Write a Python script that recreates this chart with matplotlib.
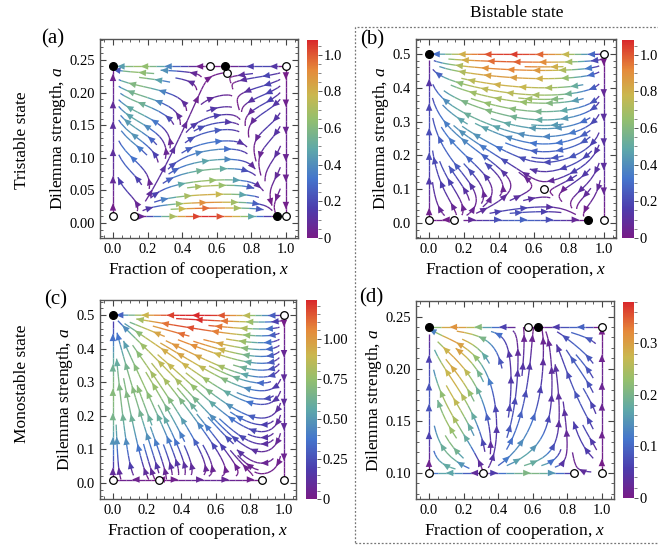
import numpy as np
import matplotlib
matplotlib.use("Agg")
import matplotlib.pyplot as plt
from matplotlib.colors import LinearSegmentedColormap, Normalize
from matplotlib.cm import ScalarMappable
from matplotlib.ticker import MultipleLocator
from matplotlib.patches import Rectangle, FancyArrowPatch

plt.rcParams['font.family'] = ['Liberation Serif', 'DejaVu Serif']
plt.rcParams['mathtext.fontset'] = 'custom'
plt.rcParams['mathtext.rm'] = 'Liberation Serif'
plt.rcParams['mathtext.it'] = 'Liberation Serif:italic'

W, H = 658, 558

# speed colour scale (purple -> blue -> green -> yellow -> red)
rainbow = LinearSegmentedColormap.from_list('rainbow_speed', [
    (0.00, (0.47, 0.11, 0.53)),
    (0.15, (0.30, 0.24, 0.68)),
    (0.30, (0.27, 0.46, 0.80)),
    (0.45, (0.37, 0.66, 0.66)),
    (0.60, (0.58, 0.75, 0.43)),
    (0.72, (0.79, 0.72, 0.31)),
    (0.85, (0.90, 0.54, 0.23)),
    (1.00, (0.85, 0.16, 0.17)),
])

# ---- (a) tristable state ----
arange_a = (0.01, 0.24)
inner_a = (0.12, 0.56)      # lower x-nullcline at a_min, a_max
outer_a = (0.95, 0.65)      # upper x-nullcline at a_min, a_max
theta_a = 0.66
gain_a = (25.0, 12.0)
stable_a = ([0.0, 0.65, 0.95], [0.24, 0.24, 0.01])
unstable_a = ([0.0, 0.12, 0.56, 0.66, 1.0, 1.0], [0.01, 0.01, 0.24, 0.23, 0.24, 0.01])
cmax_a = 1.08
cticks_a = [0, 0.2, 0.4, 0.6, 0.8, 1.0]
clabels_a = ['0', '0.2', '0.4', '0.6', '0.8', '1.0']

# ---- (b) bistable state ----
arange_b = (0.01, 0.5)
lobe_b = (0.14, 0.91, 0.1026)   # x-roots at a_min and lobe height
theta_b = 0.66
gain_b = (1.11, 5.4)
stable_b = ([0.0, 0.91], [0.5, 0.01])
unstable_b = ([0.0, 0.14, 0.66, 1.0, 1.0], [0.01, 0.01, 0.10, 0.5, 0.01])
cmax_b = 1.08
cticks_b = [0, 0.2, 0.4, 0.6, 0.8, 1.0]
clabels_b = ['0', '0.2', '0.4', '0.6', '0.8', '1.0']

# ---- (c) monostable state ----
arange_c = (0.01, 0.5)
lobe_c = (0.27, 0.87, 0.03)
theta_c = 0.87
gain_c = (0.33, 13.4)
stable_c = ([0.0], [0.5])
unstable_c = ([0.0, 0.27, 0.87, 1.0, 1.0], [0.01, 0.01, 0.01, 0.5, 0.01])
cmax_c = 1.24
cticks_c = [0, 0.25, 0.5, 0.75, 1.0]
clabels_c = ['0', '0.25', '0.50', '0.75', '1.00']

# ---- (d) bistable state, narrow range ----
arange_d = (0.10, 0.24)
inner_d = (0.31, 0.57)
outer_d = (0.84, 0.63)
theta_d = 1.3
gain_d = (12.0, 13.0)
stable_d = ([0.0, 0.63], [0.24, 0.24])
unstable_d = ([0.0, 0.31, 0.57, 0.84, 1.0, 1.0], [0.10, 0.10, 0.24, 0.10, 0.10, 0.24])
cmax_d = 0.38
cticks_d = [0, 0.1, 0.2, 0.3]
clabels_d = ['0', '0.1', '0.2', '0.3']


def field_split(X, A, arange, inner, outer, theta, gain):
    lo, hi = arange
    t = (A - lo) / (hi - lo)
    u = inner[0] + (inner[1] - inner[0]) * t
    s = outer[0] + (outer[1] - outer[0]) * t
    dx = gain[0] * X * (1 - X) * (X - u) * (s - X)
    da = gain[1] * (A - lo) * (hi - A) * (theta - X)
    return dx, da


def field_lobe(X, A, arange, lobe, theta, gain):
    lo, hi = arange
    m = 0.5 * (lobe[0] + lobe[1])
    w = 0.5 * (lobe[1] - lobe[0])
    f = 1 - ((X - m) / w) ** 2 - (A - lo) / lobe[2]
    dx = gain[0] * X * (1 - X) * f
    da = gain[1] * (A - lo) * (hi - A) * (theta - X)
    return dx, da


def fig_rect(l, r, t, b):
    return [l / W, 1 - b / H, (r - l) / W, (b - t) / H]


def add_arrows(ax, strm, norm, spacing=26, first=11):
    """Put arrowheads along every streamline at a fixed pixel spacing."""
    # drop the single default arrow per line
    for p in list(ax.patches):
        if isinstance(p, FancyArrowPatch):
            p.remove()
    lc = strm.lines
    segs = lc.get_segments()
    vals = np.asarray(lc.get_array())
    trans = ax.transData
    groups, cur = [], [0]
    for i in range(1, len(segs)):
        if np.allclose(segs[i][0], segs[i - 1][-1]):
            cur.append(i)
        else:
            groups.append(cur)
            cur = [i]
    groups.append(cur)
    for g in groups:
        pts = np.vstack([segs[g[0]][0]] + [segs[i][-1] for i in g])
        disp = trans.transform(pts)
        step = np.hypot(*np.diff(disp, axis=0).T)
        cum = np.concatenate([[0], np.cumsum(step)])
        total = cum[-1]
        if total < 14:
            continue
        for m in np.arange(first, total - 3, spacing):
            k = max(min(np.searchsorted(cum, m), len(pts) - 1), 1)
            p0, p1 = pts[k - 1], pts[k]
            if np.allclose(p0, p1):
                continue
            col = rainbow(norm(vals[g[min(k - 1, len(g) - 1)]]))
            ax.add_patch(FancyArrowPatch(p0, p1, arrowstyle='-|>,head_length=0.6,head_width=0.26',
                                         mutation_scale=9, color=col, lw=0,
                                         shrinkA=0, shrinkB=0, zorder=3))


def draw_panel(ax_box, cax_box, arange, vec, stable, unstable, ylim, ymajor, yminor,
               cmax, cticks, clabels, cminor, ylabfmt, density):
    ax = fig.add_axes(fig_rect(*ax_box))
    ax.set_xlim(-0.075, 1.07)
    ax.set_ylim(*ylim)
    x = np.linspace(0, 1, 121)
    a = np.linspace(arange[0], arange[1], 121)
    X, A = np.meshgrid(x, a)
    dx, da = vec(X, A)
    speed = np.hypot(dx, da)
    norm = Normalize(0, cmax)
    strm = ax.streamplot(x, a, dx, da, color=speed, cmap=rainbow, norm=norm,
                         density=density, linewidth=0.95, arrowsize=0.75,
                         minlength=0.15)
    add_arrows(ax, strm, norm)
    ax.plot(unstable[0], unstable[1], 'o', ms=5.5, mfc='white', mec='black',
            mew=0.9, clip_on=False, zorder=6)
    ax.plot(stable[0], stable[1], 'o', ms=5.5, mfc='black', mec='black',
            clip_on=False, zorder=6)
    ax.xaxis.set_major_locator(MultipleLocator(0.2))
    ax.xaxis.set_minor_locator(MultipleLocator(0.05))
    ax.yaxis.set_major_locator(MultipleLocator(ymajor))
    ax.yaxis.set_minor_locator(MultipleLocator(yminor))
    ax.yaxis.set_major_formatter(plt.FormatStrFormatter(ylabfmt))
    ax.xaxis.set_major_formatter(plt.FormatStrFormatter('%.1f'))
    ax.tick_params(which='both', direction='in', top=True, right=True,
                   labelsize=10.5, colors='#444444', labelcolor='black')
    ax.tick_params(which='major', length=4, width=0.8)
    ax.tick_params(which='minor', length=2.3, width=0.6)
    for sp in ax.spines.values():
        sp.set_color('#555555')
        sp.set_linewidth(1.0)
    ax.set_xlabel('Fraction of cooperation, $x$', fontsize=12.5, labelpad=3)
    ax.set_ylabel('Dilemma strength, $a$', fontsize=12.5, labelpad=1)

    cax = fig.add_axes(fig_rect(*cax_box))
    cb = fig.colorbar(ScalarMappable(norm=norm, cmap=rainbow), cax=cax)
    cb.outline.set_visible(False)
    cb.set_ticks(cticks)
    cb.set_ticklabels(clabels)
    cax.yaxis.set_minor_locator(MultipleLocator(cminor))
    cax.tick_params(which='both', direction='out', labelsize=10.5,
                    colors='#555555', labelcolor='black')
    cax.tick_params(which='major', length=3, width=0.7, pad=1)
    cax.tick_params(which='minor', length=1.8, width=0.5)
    return ax


fig = plt.figure(figsize=(W / 100, H / 100), dpi=100)

draw_panel((100, 298, 39, 238), (307, 318, 40, 238), arange_a,
           lambda X, A: field_split(X, A, arange_a, inner_a, outer_a, theta_a, gain_a),
           stable_a, unstable_a, (-0.023, 0.282), 0.05, 0.01,
           cmax_a, cticks_a, clabels_a, 0.05, '%.2f', 0.75)
draw_panel((416, 616, 39, 238), (622, 634, 40, 238), arange_b,
           lambda X, A: field_lobe(X, A, arange_b, lobe_b, theta_b, gain_b),
           stable_b, unstable_b, (-0.044, 0.544), 0.1, 0.02,
           cmax_b, cticks_b, clabels_b, 0.05, '%.1f', 0.9)
draw_panel((100, 296, 300, 499), (306, 317, 300, 499), arange_c,
           lambda X, A: field_lobe(X, A, arange_c, lobe_c, theta_c, gain_c),
           stable_c, unstable_c, (-0.048, 0.545), 0.1, 0.02,
           cmax_c, cticks_c, clabels_c, 0.05, '%.1f', 0.9)
draw_panel((416, 614, 301, 499), (623, 634, 302, 498), arange_d,
           lambda X, A: field_split(X, A, arange_d, inner_d, outer_d, theta_d, gain_d),
           stable_d, unstable_d, (0.075, 0.265), 0.05, 0.01,
           cmax_d, cticks_d, clabels_d, 0.02, '%.2f', 0.7)

# panel tags and row/column titles
for tag, px, py in [('(a)', 53, 39), ('(b)', 372, 40), ('(c)', 56, 300), ('(d)', 371, 298)]:
    fig.text(px / W, 1 - py / H, tag, fontsize=15, ha='center', va='center')
fig.text(22 / W, 1 - 140 / H, 'Tristable state', fontsize=12.5, rotation=90,
         ha='center', va='center')
fig.text(22 / W, 1 - 384 / H, 'Monostable state', fontsize=12.5, rotation=90,
         ha='center', va='center')
fig.text(517 / W, 1 - 13 / H, 'Bistable state', fontsize=12.5, ha='center', va='center')

# dotted frame around the bistable column
fig.add_artist(Rectangle((355 / W, 1 - 543 / H), (700 - 355) / W, (543 - 27) / H,
                         transform=fig.transFigure, fill=False, ec='#777777',
                         lw=0.9, ls=(0, (1.5, 1.5)), clip_on=False))

fig.savefig('out.png', dpi=100)
